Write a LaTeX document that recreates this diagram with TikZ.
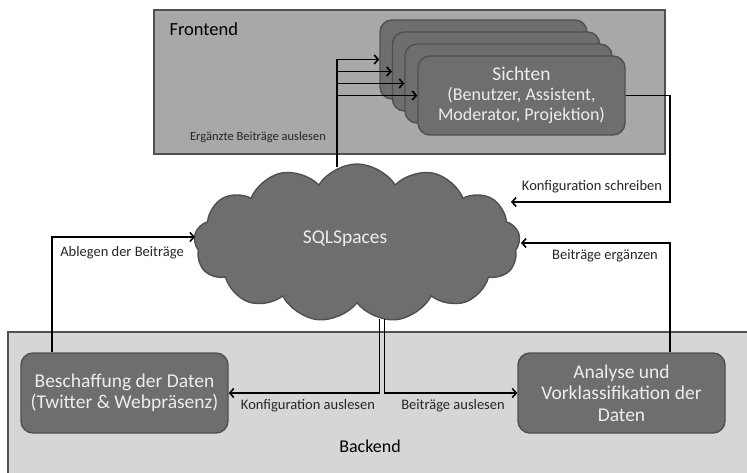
\documentclass[tikz,border=0pt]{standalone}
\usepackage{fontspec}
\setmainfont{Carlito}
\usetikzlibrary{shapes.symbols,arrows.meta}
\definecolor{frontfill}{HTML}{A8A8A8}
\definecolor{backfill}{HTML}{D6D6D6}
\definecolor{boxfill}{HTML}{6E6E6E}
\definecolor{boxline}{HTML}{505050}
\definecolor{boxtext}{HTML}{EDEDED}
\tikzset{
  area/.style={draw=boxline,line width=1.6pt},
  procbox/.style={draw=boxline,fill=boxfill,line width=1.4pt,rounded corners=12pt,
    minimum width=207pt,align=center,text=boxtext,inner sep=2pt},
  boxfont/.style={font=\fontsize{19.5}{21.5}\selectfont},
  lbl/.style={font=\fontsize{14.5}{16}\selectfont,text=black!85},
  arr/.style={line width=1.8pt,-{Straight Barb[length=4pt,width=9pt,line width=1.6pt]}},
  plain/.style={line width=1.8pt},
}
\begin{document}
\begin{tikzpicture}[x=1pt,y=-1pt]
\clip (0,0) rectangle (747,473);
\fill[white] (0,0) rectangle (747,473);

% Frontend and backend areas
\draw[area,fill=frontfill] (154,10) rectangle (665,154);
\node[anchor=west,font=\fontsize{18.5}{20}\selectfont] (fe) at (166,29) {Frontend};
\draw[area,fill=backfill] (8,332) rectangle (770,500);
\node[font=\fontsize{18}{20}\selectfont] (be) at (370,446) {Backend};

% stacked views
\node[procbox,minimum height=79pt] (s1) at (483.5,59.5) {};
\node[procbox,minimum height=79pt] (s2) at (496,71.5) {};
\node[procbox,minimum height=79pt] (s3) at (508.5,83.5) {};
\node[procbox,minimum height=79pt,font=\fontsize{18}{20}\selectfont] (s4) at (521.5,95.5)
  {{\fontsize{19.5}{20}\selectfont Sichten}\\(Benutzer, Assistent,\\Moderator, Projektion)};

% shared tuple space
\node[cloud,cloud puffs=13,cloud puff arc=115,cloud ignores aspect,draw=boxline,fill=boxfill,
  line width=1.4pt,minimum width=326pt,minimum height=158pt] (sql) at (357,243) {};
\node[text=boxtext,font=\fontsize{19.5}{22}\selectfont] (sqlt) at (345,239) {SQLSpaces};

% backend processes
\node[procbox,boxfont,minimum height=80pt] (bes) at (124.5,393)
  {Beschaffung der Daten\\(Twitter \& Webpräsenz)};
\node[procbox,boxfont,minimum height=80pt] (an) at (621.5,393)
  {Analyse und\\Vorklassifikation der\\Daten};

% end points on the cloud outline
\coordinate (cTop) at (337,167);
\coordinate (cKS) at (511,202);
\coordinate (cBE) at (521,243);
\coordinate (cAB) at (195,237);
\coordinate (cBL) at (379.5,319);
\coordinate (cBR) at (384.5,319);

% reading the completed posts
\draw[plain] (cTop) -- (cTop |- s1.west);
\draw[arr] (cTop |- s1.west) -- (s1.west);
\draw[arr] (cTop |- s2.west) -- (s2.west);
\draw[arr] (cTop |- s3.west) -- (s3.west);
\draw[arr] (cTop |- s4.west) -- (s4.west);
\node[font=\fontsize{12.5}{14}\selectfont,text=black!85] (l1) at (258,137) {Ergänzte Beiträge auslesen};

% writing the configuration
\draw[arr] (s4.east) -- ++(44,0) |- (cKS);
\node[lbl] (l2) at (592,187) {Konfiguration schreiben};

% completing posts
\draw[arr] ([xshift=48.5pt]an.north) |- (cBE);
\node[lbl] (l3) at (605,256) {Beiträge ergänzen};

% storing posts
\draw[arr] ([xshift=-72.5pt]bes.north) |- (cAB);
\node[lbl] (l4) at (122,253) {Ablegen der Beiträge};

% reading configuration and posts
\draw[arr] (cBL) |- (bes.east);
\draw[arr] (cBR) |- (an.west);
\node[lbl] (l5) at (308,406) {Konfiguration auslesen};
\node[lbl] (l6) at (453,406) {Beiträge auslesen};
\end{tikzpicture}
\end{document}
